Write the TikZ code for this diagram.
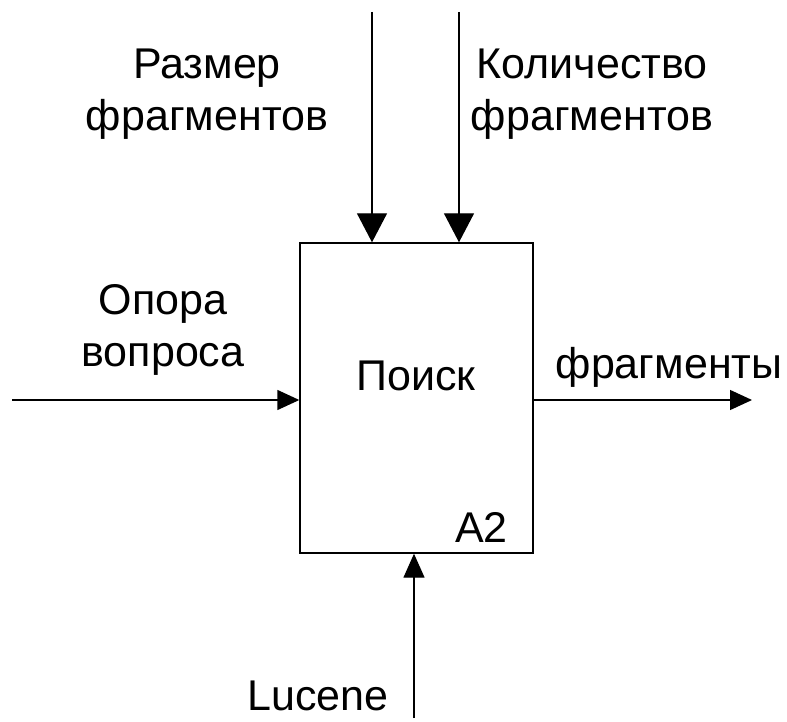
\documentclass[tikz,border=0pt]{standalone}
\usepackage{fontspec}
\setmainfont{Liberation Sans}
\usetikzlibrary{arrows.meta}
\begin{document}
\begin{tikzpicture}[x=1pt,y=-1pt,
  lbl/.style={inner sep=0pt,font=\fontsize{43}{52}\selectfont,align=center},
  conn/.style={line width=1.4pt},
  bigtip/.style={-{Triangle[length=29pt,width=30pt]}},
  smalltip/.style={-{Triangle[length=22pt,width=20pt]}},
  boxst/.style={draw,line width=1.4pt,minimum width=233pt,minimum height=310pt,inner sep=0pt}]
\useasboundingbox (0,0) rectangle (787,722);
\node[boxst] (b) at (416.5,398) {};
\node[lbl] (poisk) at (416,376) {Поиск};
\node[lbl,anchor=base east] (a2) at (508,542) {A2};
\node[lbl] (razmer) at (207,94) {Размер\\фрагментов};
\node[lbl] (kol) at (592,94) {Количество\\фрагментов};
\node[lbl] (opora) at (163,330) {Опора\\вопроса};
\node[lbl,anchor=base] (frag) at (669,378) {фрагменты};
\node[lbl,anchor=base] (luc) at (318,710) {Lucene};
\coordinate (t1) at (372,12);
\coordinate (t2) at (459,12);
\coordinate (li) at (12,400);
\coordinate (ro) at (752,400);
\coordinate (bo) at (414,718);
\draw[conn,bigtip] (t1) -- (t1 |- b.north);
\draw[conn,bigtip] (t2) -- (t2 |- b.north);
\draw[conn,smalltip] (li) -- (li -| b.west);
\draw[conn,smalltip] (b.east |- ro) -- (ro);
\draw[conn,-{Triangle[length=24pt,width=21pt]}] (bo) -- (bo |- b.south);
\end{tikzpicture}
\end{document}
